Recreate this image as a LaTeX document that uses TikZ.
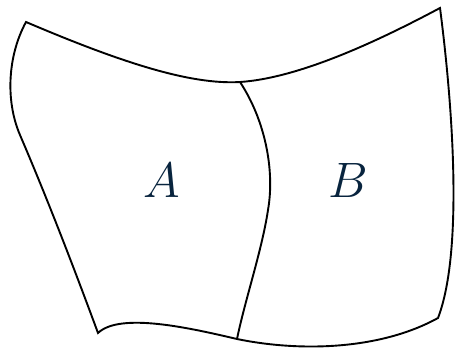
\documentclass[tikz,border=0pt]{standalone}
\usepackage{graphicx}
\definecolor{labelblue}{RGB}{8,36,62}
\tikzset{
  outline/.style={line width=1.9pt, black, line join=miter},
  region label/.style={text=labelblue, font=\Huge, inner sep=0pt}
}
\newcommand{\biglabel}[1]{\scalebox{2}{$#1$}}
\begin{document}
\begin{tikzpicture}[x=1pt,y=-1pt]
\useasboundingbox (0,0) rectangle (460,350);
\coordinate (tl) at (26,22);
\coordinate (tm) at (240,82);
\coordinate (tr) at (440,8);
\coordinate (br) at (438,318);
\coordinate (bm) at (237,339);
\coordinate (bl) at (98,333);
\coordinate (lm) at (20,135);
\coordinate (dm) at (268,210);
\draw[outline] (tl) .. controls (120,62) and (190,85) .. (tm)
  .. controls (300,78) and (380,40) .. (tr)
  .. controls (452,100) and (464,250) .. (br)
  .. controls (380,350) and (300,352) .. (bm)
  .. controls (190,328) and (120,312) .. (bl)
  .. controls (60,230) and (35,170) .. (lm)
  .. controls (5,100) and (8,55) .. (tl) -- cycle;
\draw[outline] (tm) .. controls (265,120) and (275,170) .. (dm)
  .. controls (262,250) and (245,300) .. (bm);
\node[region label] (A) at (162,180) {\biglabel{A}};
\node[region label] (B) at (348,180) {\biglabel{B}};
\end{tikzpicture}
\end{document}
